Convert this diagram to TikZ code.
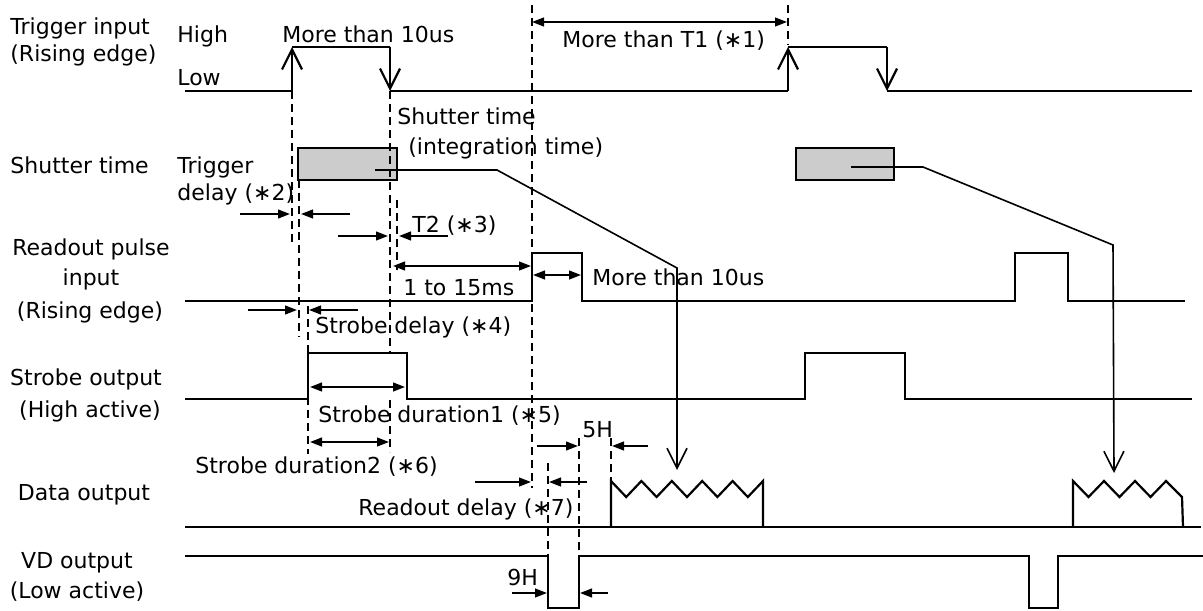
\documentclass[tikz,border=0pt]{standalone}
\usepackage{fontspec}
\setmainfont{DejaVu Sans}
\usetikzlibrary{arrows.meta}
\begin{document}
\begin{tikzpicture}[x=0.5pt, y=-0.5pt, every node/.style={font=\fontsize{11}{13}\selectfont, inner sep=0pt}]
    \tikzset{
        wave/.style={line width=1.1pt},
        guide/.style={line width=0.9pt, dash pattern=on 4pt off 2.5pt},
        edgeup/.style={line width=1.1pt, -{Straight Barb[length=10pt, width=10pt]}},
        leader/.style={line width=0.8pt, -{Straight Barb[length=10pt, width=10pt]}},
        dim/.style={line width=0.9pt, -{Triangle[length=6pt, width=4.4pt]}},
        ddim/.style={line width=0.9pt, {Triangle[length=6pt, width=4.4pt]}-{Triangle[length=6pt, width=4.4pt]}},
        shutbox/.style={line width=1.1pt, fill=black!20}
    }
    \useasboundingbox (0,0) rectangle (1203,610);
    % signal names
    \node[anchor=base west] (trigA) at (10,35)  {Trigger input};
    \node[anchor=base west] (trigB) at (10,62)  {(Rising edge)};
    \node[anchor=base west] (shut)  at (10,173) {Shutter time};
    \node[anchor=base] (readA) at (91,255) {Readout pulse};
    \node[anchor=base] (readB) at (91,285) {input};
    \node[anchor=base] (readC) at (90,318) {(Rising edge)};
    \node[anchor=base] (strbA) at (86,385) {Strobe output};
    \node[anchor=base] (strbB) at (90,417) {(High active)};
    \node[anchor=base] (data)  at (84,500) {Data output};
    \node[anchor=base] (vdA)   at (77,568) {VD output};
    \node[anchor=base] (vdB)   at (77,598) {(Low active)};
    % levels
    \node[anchor=base west] (high) at (177,43) {High};
    \node[anchor=base west] (low)  at (177,86) {Low};
    % trigger input
    \draw[wave] (185,91) -- (292,91);
    \draw[edgeup] (292,91) -- (292,47);
    \draw[wave] (292,47) -- (390,47);
    \draw[edgeup] (390,47) -- (390,91);
    \draw[wave] (390,91) -- (788,91);
    \draw[edgeup] (788,91) -- (788,47);
    \draw[wave] (788,47) -- (887,47);
    \draw[edgeup] (887,47) -- (887,91);
    \draw[wave] (887,91) -- (1192,91);
    % shutter time
    \draw[shutbox] (298,148) rectangle (397,180);
    \draw[shutbox] (796,148) rectangle (894,180);
    \draw[leader] (375,170) -- (497,170) -- (677,268) -- (677,470);
    \draw[leader] (851,167) -- (923,167) -- (1113,245) -- (1114,473);
    % readout pulse input
    \draw[wave] (185,301) -- (532,301) -- (532,253) -- (582,253) -- (582,301) -- (1015,301)
        -- (1015,253) -- (1068,253) -- (1068,301) -- (1185,301);
    % strobe output
    \draw[wave] (185,399) -- (308,399) -- (308,353) -- (407,353) -- (407,399) -- (805,399)
        -- (805,353) -- (905,353) -- (905,399) -- (1192,399);
    % data output
    \draw[wave] (185,527) -- (1201,527);
    \draw[wave] (611,527) -- (611,481) \foreach \k in {1,...,5} {-- ++(15.2,16) -- ++(15.2,-16)} -- (763,527);
    \draw[wave] (1073,527) -- (1073,481) \foreach \k in {1,...,3} {-- ++(15.5,16) -- ++(15.5,-16)} -- ++(16,16) -- (1183,527);
    % VD output
    \draw[wave] (185,556) -- (548,556) -- (548,608) -- (579,608) -- (579,556) -- (1029,556)
        -- (1029,608) -- (1058,608) -- (1058,556) -- (1203,556);
    % guide lines
    \draw[guide] (292,91) -- (292,243);
    \draw[guide] (299,180) -- (299,337);
    \draw[guide] (308,306) -- (308,454);
    \draw[guide] (390,91) -- (390,353);
    \draw[guide] (390,400) -- (390,452);
    \draw[guide] (397,200) -- (397,270);
    \draw[guide] (532,5) -- (532,488);
    \draw[guide] (788,5) -- (788,45);
    \draw[guide] (548,463) -- (548,555);
    \draw[guide] (579,438) -- (579,553);
    \draw[guide] (611,438) -- (611,480);
    % dimensions
    \draw[ddim] (532,22) -- (787,22);
    \node[anchor=base west] (t1) at (562,48) {More than T1 (∗1)};
    \node[anchor=base west] (pw1) at (282,43) {More than 10us};
    \node[anchor=base west] (intA) at (397,125) {Shutter time};
    \node[anchor=base west] (intB) at (408,155) {(integration time)};
    \node[anchor=base west] (tdA) at (177,173) {Trigger};
    \node[anchor=base west] (tdB) at (177,200) {delay (∗2)};
    \draw[dim] (240,214) -- (290,214);
    \draw[dim] (350,214) -- (301,214);
    \node[anchor=base west] (t2) at (412,232) {T2 (∗3)};
    \draw[dim] (338,236) -- (388,236);
    \draw[dim] (448,236) -- (399,236);
    \draw[ddim] (393,266) -- (531,266);
    \node[anchor=base west] (win) at (403,295) {1 to 15ms};
    \draw[ddim] (533,275) -- (581,275);
    \node[anchor=base west] (pw2) at (592,285) {More than 10us};
    \draw[dim] (248,310) -- (297,310);
    \draw[dim] (358,310) -- (309,310);
    \node[anchor=base west] (sdl) at (315,333) {Strobe delay (∗4)};
    \draw[ddim] (310,387) -- (405,387);
    \node[anchor=base west] (sd1) at (318,422) {Strobe duration1 (∗5)};
    \draw[ddim] (310,442) -- (389,442);
    \node[anchor=base west] (sd2) at (195,473) {Strobe duration2 (∗6)};
    \draw[dim] (537,446) -- (578,446);
    \draw[dim] (648,446) -- (612,446);
    \node[anchor=base west] (h5) at (582,437) {5H};
    \draw[dim] (475,482) -- (531,482);
    \draw[dim] (587,482) -- (549,482);
    \node[anchor=base west] (rdl) at (358,515) {Readout delay (∗7)};
    \draw[dim] (512,593) -- (547,593);
    \draw[dim] (608,593) -- (580,593);
    \node[anchor=base west] (h9) at (507,585) {9H};
\end{tikzpicture}
\end{document}
